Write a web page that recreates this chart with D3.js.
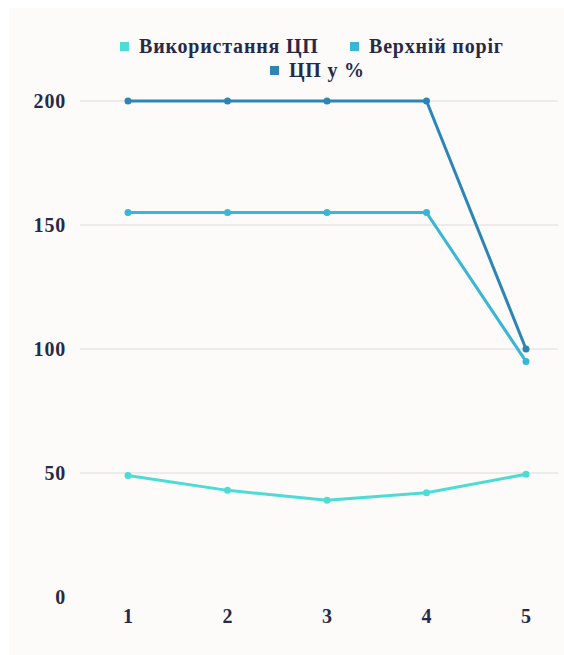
<!DOCTYPE html>
<html>
<head>
<meta charset="utf-8">
<script src="https://cdn.jsdelivr.net/npm/d3@7"></script>
</head>
<body style="margin:0">
<svg id="chart" width="564" height="655"></svg>
<script>
// data
var categories = [1, 2, 3, 4, 5];
var cpuUsage = [49, 43, 39, 42, 49.5];      // Використання ЦП
var upperLimit = [155, 155, 155, 155, 95];   // Верхній поріг
var cpuPercent = [200, 200, 200, 200, 100];  // ЦП у %
var yTicks = [0, 50, 100, 150, 200];

var seriesNames = ["Використання ЦП", "Верхній поріг", "ЦП у %"];
var seriesValues = [cpuUsage, upperLimit, cpuPercent];
var colors = ["#4cdcd4", "#38b6d6", "#2b86b6"];

var W = 564, H = 655;
var textColor = "#262a48";

var svg = d3.select("#chart");

// same look for every label
function styleText(sel) {
    sel.attr("style", "font-family:'Liberation Serif';font-size:20px;font-weight:bold;letter-spacing:0.8px")
        .attr("fill", textColor);
}

// faint panel background
svg.append("rect")
    .attr("x", 9).attr("y", 8)
    .attr("width", W - 9).attr("height", H - 8)
    .attr("fill", "#fdfafa");

var x = d3.scalePoint()
    .domain(categories)
    .range([128, 526]);

var y = d3.scaleLinear()
    .domain([0, 200])
    .range([597, 101]);

// gridlines
svg.append("g")
    .selectAll("line")
    .data(yTicks.filter(d => d > 0))
    .enter().append("line")
    .attr("x1", 80).attr("x2", W - 6)
    .attr("y1", d => y(d)).attr("y2", d => y(d))
    .attr("stroke", "#dcdcdc")
    .attr("stroke-width", 1);

// y axis labels
var yAxis = svg.append("g")
    .attr("transform", "translate(66,0)")
    .call(d3.axisLeft(y).tickValues(yTicks).tickSize(0).tickPadding(0));
yAxis.select(".domain").remove();
yAxis.selectAll("text").call(styleText);

// x axis labels
var xAxis = svg.append("g")
    .attr("transform", "translate(0,609)")
    .call(d3.axisBottom(x).tickSize(0).tickPadding(0));
xAxis.select(".domain").remove();
xAxis.selectAll("text").call(styleText);

var line = d3.line()
    .x((d, i) => x(categories[i]))
    .y(d => y(d));

seriesValues.forEach(function(vals, s) {
    svg.append("path")
        .datum(vals)
        .attr("d", line)
        .attr("fill", "none")
        .attr("stroke", colors[s])
        .attr("stroke-width", 3)
        .attr("stroke-linejoin", "round");
    svg.append("g")
        .selectAll("circle")
        .data(vals)
        .enter().append("circle")
        .attr("cx", (d, i) => x(categories[i]))
        .attr("cy", d => y(d))
        .attr("r", 3.5)
        .attr("fill", colors[s]);
});

// legend
var legendItems = [
    {name: seriesNames[0], color: colors[0], x: 120, y: 46},
    {name: seriesNames[1], color: colors[1], x: 350, y: 46},
    {name: seriesNames[2], color: colors[2], x: 270, y: 70}
];
var legend = svg.append("g")
    .selectAll("g")
    .data(legendItems)
    .enter().append("g")
    .attr("transform", d => "translate(" + d.x + "," + d.y + ")");
legend.append("rect")
    .attr("x", 0).attr("y", -4)
    .attr("width", 9).attr("height", 9)
    .attr("fill", d => d.color);
legend.append("text")
    .attr("x", 19).attr("y", 0)
    .attr("dy", "0.35em")
    .call(styleText)
    .text(d => d.name);
</script>
</body>
</html>
